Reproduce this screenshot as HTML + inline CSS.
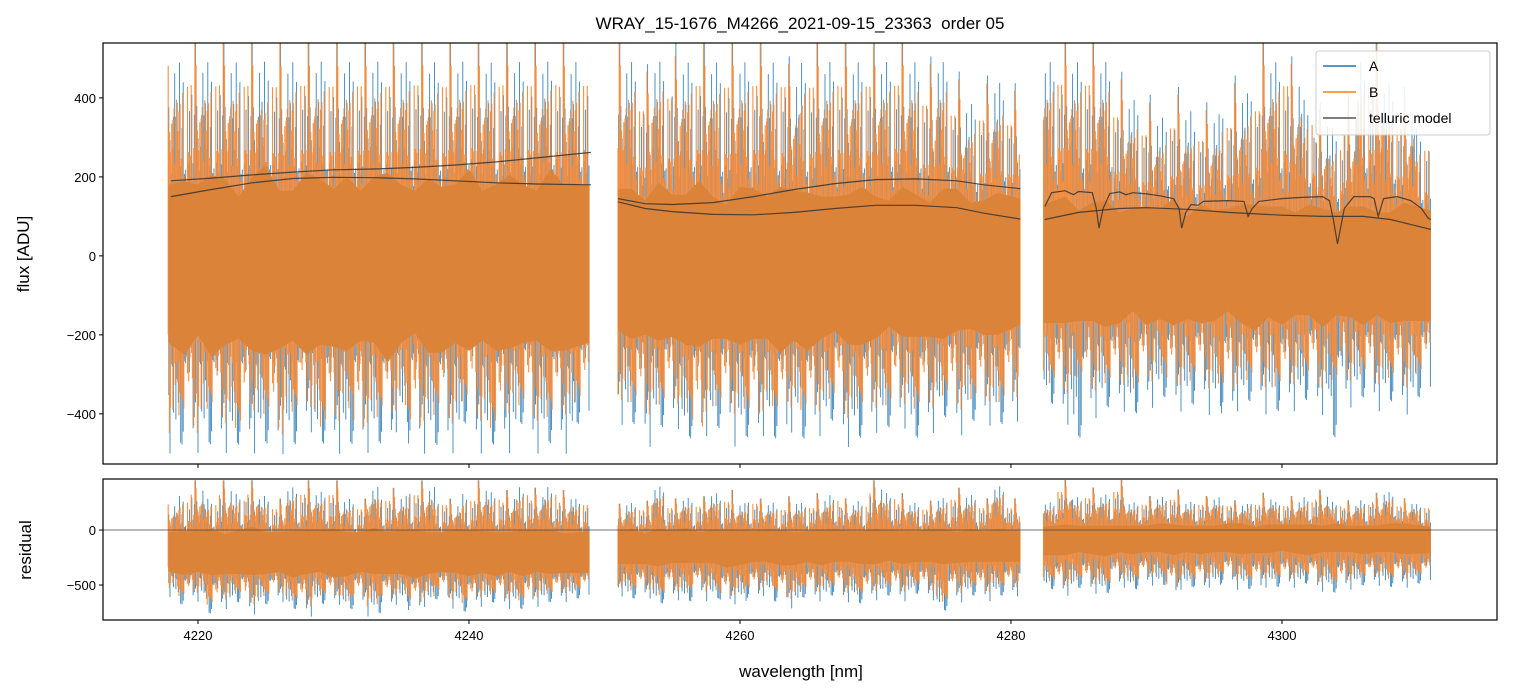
<!DOCTYPE html>
<html><head><meta charset="utf-8"><style>
body{margin:0;background:#fff;}
svg{display:block;font-family:"Liberation Sans","DejaVu Sans",sans-serif;}
</style></head><body>
<svg id="chart" width="1513" height="696" xmlns="http://www.w3.org/2000/svg">
<text x="800" y="29" text-anchor="middle" font-size="17" style="white-space:pre">WRAY_15-1676_M4266_2021-09-15_23363  order 05</text>
<g id="topPanel"></g>
<g id="botPanel"></g>
<text x="801" y="677" text-anchor="middle" font-size="17">wavelength [nm]</text>
<text transform="translate(29,254) rotate(-90)" text-anchor="middle" font-size="17">flux [ADU]</text>
<text transform="translate(31,550) rotate(-90)" text-anchor="middle" font-size="17">residual</text>
<g id="legendG">
<rect x="1316" y="51" width="174" height="84" rx="3" fill="#fff" fill-opacity="0.85" stroke="#ccc"/>
<line x1="1323" y1="66" x2="1356" y2="66" stroke="#1f77b4" stroke-width="1.5"/>
<text x="1369" y="71" font-size="14">A</text>
<line x1="1323" y1="92" x2="1356" y2="92" stroke="#ff7f0e" stroke-width="1.5"/>
<text x="1369" y="97" font-size="14">B</text>
<line x1="1323" y1="118" x2="1356" y2="118" stroke="#555" stroke-width="1.5"/>
<text x="1369" y="123" font-size="14">telluric model</text>
</g>
</svg>
<script>
const wl=[4218,4219,4220,4221,4222,4223,4224,4225,4226,4227,4228,4229,4230,4231,4232,4233,4234,4235,4236,4237,4238,4239,4240,4241,4242,4243,4244,4245,4246,4247,4248.7,
4251.2,4252,4253,4254,4255,4256,4257,4258,4259,4260,4261,4262,4263,4264,4265,4266,4267,4268,4269,4270,4271,4272,4273,4274,4275,4276,4277,4278,4279,4280.5,
4282.6,4284,4285,4286,4287,4288,4289,4290,4291,4292,4293,4294,4295,4296,4297,4298,4299,4300,4301,4302,4303,4304,4305,4306,4307,4308,4309,4310.8];
const fluxCenter=[-20,-30,-10,-25,-15,-30,-20,-10,-35,-25,-20,-15,-30,-20,-25,-10,-30,-20,-15,-25,-35,-20,-10,-25,-30,-15,-20,-25,-10,-30,-20,
-10,-20,-30,-15,-25,-35,-20,-30,-40,-25,-20,-30,-35,-25,-40,-30,-20,-35,-25,-30,-20,-15,-25,-35,-20,-10,-25,-30,-20,-15,
-20,-10,-25,-15,-20,-30,-10,-25,-20,-15,-30,-20,-25,-10,-20,-30,-15,-25,-20,-10,-30,-20,-15,-25,-20,-30,-15,-25];
const fluxSpread=[200,220,190,230,210,180,220,240,200,190,230,210,200,220,190,210,240,200,180,220,210,200,230,190,210,220,200,190,230,210,200,
180,190,170,200,180,190,210,180,170,200,190,180,210,190,200,180,170,190,200,180,160,190,180,170,190,180,160,170,180,160,
150,160,140,150,160,140,130,150,140,160,130,150,140,130,150,160,140,150,130,140,150,130,140,150,130,140,150,140];
const fluxHiB=[560,560,560,560,560,560,560,520,560,560,560,560,560,560,560,560,560,560,560,560,560,560,560,560,560,560,560,560,560,560,560,
560,560,480,560,520,560,560,560,560,560,560,560,560,500,560,560,560,560,560,560,560,560,560,500,560,460,420,450,480,430,
560,560,560,560,560,460,430,400,380,420,400,380,390,420,450,480,560,560,500,430,380,350,400,560,560,480,420,350];
const fluxLoB=[-540,-500,-540,-480,-510,-540,-470,-500,-540,-490,-460,-540,-500,-480,-540,-510,-490,-470,-540,-500,-480,-510,-460,-500,-540,-480,-470,-500,-510,-480,-460,
-440,-460,-480,-470,-450,-490,-540,-470,-460,-480,-500,-470,-490,-460,-480,-470,-450,-490,-480,-460,-470,-450,-480,-460,-440,-470,-450,-440,-460,-430,
-400,-420,-380,-410,-400,-390,-420,-380,-370,-400,-390,-380,-400,-420,-390,-380,-400,-410,-390,-380,-400,-390,-380,-370,-390,-380,-400,-370];
const fluxHiA=[560,560,560,560,560,560,560,560,560,560,560,560,560,560,560,560,560,560,560,560,560,560,560,560,560,560,560,560,560,560,560,
560,560,500,560,560,560,560,560,560,560,560,560,560,520,560,560,560,560,560,560,560,560,560,520,560,480,440,470,500,450,
560,560,560,560,560,480,450,420,400,440,420,400,410,440,470,500,560,560,520,450,400,370,420,560,560,500,440,370];
const fluxLoA=[-560,-560,-560,-560,-560,-560,-560,-560,-560,-560,-500,-560,-560,-560,-560,-560,-560,-500,-560,-560,-560,-560,-500,-560,-560,-560,-500,-560,-560,-560,-500,
-480,-500,-540,-510,-490,-540,-540,-510,-500,-540,-540,-510,-540,-500,-540,-510,-490,-540,-540,-500,-510,-490,-540,-500,-480,-510,-490,-480,-500,-470,
-440,-480,-540,-460,-450,-440,-470,-430,-420,-450,-440,-430,-450,-470,-440,-430,-450,-460,-440,-430,-450,-540,-430,-420,-440,-430,-450,-420];
const resCenter=[-200,-210,-190,-200,-220,-200,-190,-210,-200,-220,-200,-190,-210,-220,-200,-190,-210,-200,-220,-210,-200,-190,-210,-200,-220,-200,-210,-190,-200,-210,-200,
-160,-150,-170,-160,-150,-140,-160,-150,-170,-160,-150,-140,-160,-170,-150,-160,-140,-150,-160,-150,-140,-160,-150,-140,-150,-160,-140,-150,-140,-150,
-100,-90,-80,-90,-100,-80,-90,-80,-70,-90,-80,-90,-80,-70,-80,-90,-80,-70,-80,-90,-80,-70,-80,-90,-80,-70,-80,-90];
const resSpread=[180,200,190,210,180,200,220,190,180,210,200,190,220,200,180,210,190,200,220,190,180,200,210,190,200,180,210,190,200,180,190,
150,160,140,170,150,160,140,150,170,160,140,150,160,150,140,160,150,140,150,160,140,150,140,150,160,140,150,140,150,140,
130,140,120,130,140,120,130,120,130,140,120,130,120,130,140,120,130,120,130,140,120,130,120,130,120,130,140,120];
const resHi=[300,380,470,350,470,400,470,380,300,470,470,420,470,350,300,470,400,380,470,470,350,300,400,470,420,380,470,400,470,380,350,
250,300,280,470,300,350,320,400,380,300,350,300,280,320,300,350,380,300,320,470,400,350,300,280,350,400,380,300,470,300,
300,470,350,400,380,470,300,320,350,380,300,320,350,300,280,320,350,300,320,350,380,300,280,320,350,400,300,280];
const resLo=[-600,-700,-650,-800,-720,-680,-780,-700,-650,-750,-800,-700,-680,-750,-700,-800,-720,-680,-760,-700,-650,-720,-780,-700,-680,-720,-750,-700,-680,-650,-640,
-600,-650,-620,-700,-640,-680,-600,-650,-700,-680,-640,-600,-680,-720,-640,-650,-620,-660,-700,-640,-620,-650,-600,-640,-780,-660,-620,-650,-620,-600,
-560,-600,-550,-580,-600,-520,-560,-500,-520,-620,-540,-560,-520,-500,-540,-560,-520,-540,-520,-500,-560,-600,-540,-520,-500,-540,-520,-500];
const tellWlU1=[4218,4221,4224,4227,4230,4233,4236,4239,4242,4245,4249];
const tellU1=[190,197,205,212,218,220,224,230,238,248,262];
const tellL1=[150,168,185,196,199,198,195,190,185,182,180];
const tellWl2=[4251,4253,4255,4258,4261,4264,4267,4270,4273,4276,4278,4280.7];
const tellU2=[145,132,130,135,150,168,183,193,195,190,180,170];
const tellL2=[137,120,112,105,104,110,120,128,128,122,108,93];
const tellWlU3=[4282.5,4283,4284,4284.6,4285,4286,4286.3,4286.5,4286.8,4287.3,4288,4288.5,4289,4290,4291,4292,4292.4,4292.6,4292.9,4293.3,4293.8,4294.2,4296,4297.2,4297.5,4297.8,4298.3,4300,4301.5,4303,4303.5,4303.8,4304.1,4304.6,4305.3,4306.5,4306.8,4307.1,4307.5,4308.5,4309.5,4310.3,4310.8,4311];
const tellU3=[125,160,165,155,163,160,120,70,120,158,162,155,160,157,152,145,120,70,110,130,128,138,140,138,100,120,138,145,148,150,140,90,30,120,150,150,145,100,145,150,140,120,95,92];
const tellWlL3=[4282.5,4285,4288,4290,4293,4296,4300,4303,4306,4308,4311];
const tellL3=[92,110,120,122,118,110,103,100,100,92,67];
const xTicks=[4220,4240,4260,4280,4300];
const yTicksTop=[400,200,0,-200,-400];
const yTicksBot=[0,-500];

const NS="http://www.w3.org/2000/svg";
const X0=103,X1=1497,GAP=1.95;
const xs=w=>X0+(w-4212.99)/(4315.87-4212.99)*(X1-X0);
const yT=v=>43+(539-v)/(539+527)*(464-43);
const yB=v=>479+(464-v)/(464+818)*(620-479);
function mk(tag,attrs,parent){const e=document.createElementNS(NS,tag);for(const k in attrs)e.setAttribute(k,attrs[k]);parent.appendChild(e);return e;}
function segs(){const s=[];let cur=[0];for(let i=1;i<wl.length;i++){if(wl[i]-wl[i-1]>GAP){s.push(cur);cur=[];}cur.push(i);}s.push(cur);return s;}
// visual texture pattern (style, not data)
const pat=[1,0.35,0.62,0.18,0.8,0.45,0.27,0.92,0.52,0.12,0.7,0.3,0.58,0.22,0.85,0.4,0.15,0.66,0.33,0.5,0.25,0.75,0.42];
function spikes(g,ys,hi,lo,cen,col,off,name,sw,m1,m2){
  let d="";
  let c=0;
  for(let i=0;i<wl.length;i++){
    const lw=(i>0&&wl[i]-wl[i-1]<GAP)?wl[i-1]:wl[i]-0.4;
    const rw=(i<wl.length-1&&wl[i+1]-wl[i]<GAP)?wl[i+1]:wl[i]+0.4;
    const a=xs((lw+wl[i])/2),b=xs((rw+wl[i])/2);
    const n=Math.max(4,Math.round((b-a)/1.2));
    for(let k=0;k<n;k++){
      c++;
      const x=a+(b-a)*(k+off)/n;
      const f=pat[(c*m1)%pat.length]*pat[(c*3+7)%pat.length];
      const f2=pat[(c*m2+5)%pat.length]*pat[(c*4+2)%pat.length];
      const up=cen[i]+(hi[i]-cen[i])*Math.pow(f,0.33), dn=cen[i]+(lo[i]-cen[i])*Math.pow(f2,0.33);
      d+=`M${x.toFixed(1)},${ys(up).toFixed(1)}L${x.toFixed(1)},${ys(dn).toFixed(1)}`;
    }
  }
  const p=mk("path",{d:d,stroke:col,"stroke-width":sw,fill:"none"},g);
  
  
}
function band(g,ys,cen,spr,name){
  for(const s of segs()){
    const first=s[0],last=s[s.length-1];
    const wx=i=>i===first?wl[i]-0.2:(i===last?wl[i]+0.2:wl[i]);
    let pts=[];
    s.forEach(i=>pts.push(xs(wx(i)).toFixed(1)+","+ys(cen[i]+spr[i]).toFixed(1)));
    for(let j=s.length-1;j>=0;j--){const i=s[j];pts.push(xs(wx(i)).toFixed(1)+","+ys(cen[i]-spr[i]).toFixed(1));}
    const p=mk("polygon",{points:pts.join(" "),fill:"#db8439"},g);
    
    
  }
}
function line(g,xsArr,ysArr,ys,name){
  const p=mk("polyline",{points:xsArr.map((w,i)=>xs(w).toFixed(1)+","+ys(ysArr[i]).toFixed(1)).join(" "),fill:"none",stroke:"#333","stroke-opacity":0.85,"stroke-width":1.2},g);
  
  
}
function axes(g,y0,y1,ys,ticks,name){
  ticks.forEach(t=>{const y=ys(t);
    const l=mk("line",{x1:X0-4,x2:X0,y1:y,y2:y,stroke:"#000"},g);
    
    
    const tx=mk("text",{x:X0-7,y:y+5,"text-anchor":"end","font-size":13},g);
    tx.textContent=(t<0?"\u2212"+(-t):t);
    
    
  });
  xTicks.forEach(t=>{const x=xs(t);
    const l=mk("line",{x1:x,x2:x,y1:y1,y2:y1+4,stroke:"#000"},g);
    
    
  });
  const r=mk("rect",{x:X0,y:y0,width:X1-X0,height:y1-y0,fill:"none",stroke:"#000","stroke-width":1.2},g);
  
  
}
const topG=document.getElementById("topPanel"),botG=document.getElementById("botPanel");
const svgRoot=document.getElementById("chart");
const defs=mk("defs",{},svgRoot);
const c1=mk("clipPath",{id:"c1"},defs);mk("rect",{x:X0,y:43,width:X1-X0,height:421},c1);
const c2=mk("clipPath",{id:"c2"},defs);mk("rect",{x:X0,y:479,width:X1-X0,height:141},c2);
const gt=mk("g",{"clip-path":"url(#c1)"},topG);
spikes(gt,yT,fluxHiA,fluxLoA,fluxCenter,"#3b86bd",0.5,"series-a-flux",0.9,5,9);
spikes(gt,yT,fluxHiB,fluxLoB,fluxCenter,"#f99040",0.0,"series-b-flux",1.1,7,11);
band(gt,yT,fluxCenter,fluxSpread,"flux-dense-band");
line(gt,tellWlU1,tellU1,yT,"telluric-model-a-seg1");
line(gt,tellWlU1,tellL1,yT,"telluric-model-b-seg1");
line(gt,tellWl2,tellU2,yT,"telluric-model-a-seg2");
line(gt,tellWl2,tellL2,yT,"telluric-model-b-seg2");
line(gt,tellWlU3,tellU3,yT,"telluric-model-a-seg3");
line(gt,tellWlL3,tellL3,yT,"telluric-model-b-seg3");
axes(topG,43,464,yT,yTicksTop,"flux-axes-frame");
const gb=mk("g",{"clip-path":"url(#c2)"},botG);
const lowRes=resLo.map(v=>v-60);
spikes(gb,yB,resHi,lowRes,resCenter,"#3b86bd",0.5,"series-a-residual",0.9,5,9);
spikes(gb,yB,resHi,resLo,resCenter,"#f99040",0.0,"series-b-residual",1.1,7,11);
band(gb,yB,resCenter,resSpread,"residual-dense-band");
const zl=mk("line",{x1:X0,x2:X1,y1:yB(0),y2:yB(0),stroke:"#444","stroke-width":0.7},gb);


axes(botG,479,620,yB,yTicksBot,"residual-axes-frame");
xTicks.forEach(t=>{const tx=mk("text",{x:xs(t),y:640,"text-anchor":"middle","font-size":13},botG);tx.textContent=t;
  
  
});
svgRoot.appendChild(document.getElementById("legendG"));
</script>
</body></html>
